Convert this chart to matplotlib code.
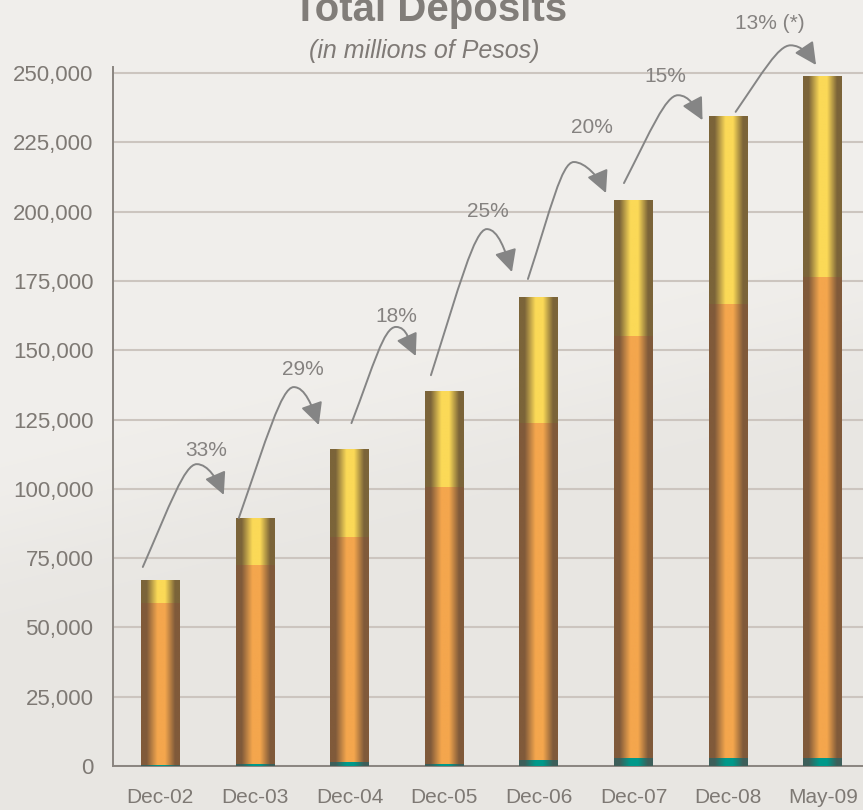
import numpy as np
import matplotlib
matplotlib.use('Agg')
import matplotlib.pyplot as plt
from matplotlib.colors import LinearSegmentedColormap, to_rgb
from matplotlib.patches import FancyArrowPatch
from matplotlib.path import Path
from matplotlib.ticker import FuncFormatter

plt.rcParams['font.family'] = ['Liberation Sans', 'DejaVu Sans']

# data (millions of pesos)
periods = ['Dec-02', 'Dec-03', 'Dec-04', 'Dec-05', 'Dec-06', 'Dec-07', 'Dec-08', 'May-09']
teal_part = [500, 800, 1500, 700, 2200, 3000, 3000, 3000]
orange_part = [58400, 71700, 81100, 99900, 121500, 152000, 163700, 173500]
yellow_part = [8200, 16600, 31400, 34400, 45300, 49000, 67800, 72500]
growth = ['33%', '29%', '18%', '25%', '20%', '15%', '13% (*)']

# curved growth arrows: start, top of the hump, arrow tip, label
arrow_start = [(-0.185, 71800), (0.83, 89500), (2.02, 123700), (2.86, 141000),
               (3.885, 175700), (4.90, 210300), (6.08, 236000)]
arrow_peak = [(0.385, 108900), (1.41, 136700), (2.49, 158400), (3.45, 193700),
              (4.37, 217900), (5.47, 242000), (6.66, 260000)]
arrow_tip = [(0.671, 97800), (1.675, 123000), (2.70, 147900), (3.716, 178200),
             (4.71, 206700), (5.73, 233000), (6.93, 252900)]
label_pos = [(0.48, 114000), (1.51, 142900), (2.49, 162000), (3.46, 199900),
             (4.56, 230500), (5.34, 248600), (6.44, 268000)]

W, H = 863, 810
fig = plt.figure(figsize=(W / 100, H / 100), dpi=100)

# soft two-tone backdrop
bg = fig.add_axes([0, 0, 1, 1], zorder=-10)
yy, xx = np.mgrid[0:H, 0:W]
edge = 540 - 0.25 * xx
t = 1 / (1 + np.exp(-(yy - edge) / 35.0))
light = np.array(to_rgb('#f1efec'))
dark = np.array(to_rgb('#e8e6e2'))
img = light[None, None, :] * (1 - t[..., None]) + dark[None, None, :] * t[..., None]
bg.imshow(img, aspect='auto', extent=(0, 1, 0, 1))
bg.set_axis_off()

ax = fig.add_axes([113 / W, 44 / H, 757 / W, 698.5 / H])
ax.set_facecolor('none')


def grad_cmap(dk, lt):
    return LinearSegmentedColormap.from_list(
        '', [(0, dk), (0.14, dk), (0.42, lt), (0.62, lt), (0.88, dk), (1, dk)])


cm_teal = grad_cmap('#3d5f5a', '#00998a')
cm_orange = grad_cmap('#805a3a', '#f4a64d')
cm_yellow = grad_cmap('#7b6439', '#fbd957')
grad = np.linspace(0, 1, 80).reshape(1, -1)
w = 0.41

x = np.arange(len(periods))
for i in x:
    b = 0
    for val, cm in ((teal_part[i], cm_teal), (orange_part[i], cm_orange), (yellow_part[i], cm_yellow)):
        ax.imshow(grad, extent=(i - w / 2, i + w / 2, b, b + val), aspect='auto',
                  cmap=cm, interpolation='bilinear', zorder=3)
        b += val

for s, p, tp, lp, txt in zip(arrow_start, arrow_peak, arrow_tip, label_pos, growth):
    sx, sy = s
    px, py = p
    tx, ty = tp
    verts = [(sx, sy),
             (sx + 0.5 * (px - sx), sy + 0.6 * (py - sy)), (px - 0.13, py), (px, py),
             (px + 0.12, py), (tx - 0.07, ty + 0.5 * (py - ty)), (tx, ty)]
    codes = [Path.MOVETO] + [Path.CURVE4] * 6
    arr = FancyArrowPatch(path=Path(verts, codes), arrowstyle='-|>,head_length=0.9,head_width=0.45',
                          mutation_scale=15, lw=1.4, color='#858585', zorder=5,
                          transform=ax.transData, clip_on=False)
    ax.add_patch(arr)
    ax.text(lp[0], lp[1], txt, ha='center', va='center', fontsize=15, color='#858280', zorder=6)

ax.set_xlim(-0.5, 7.5)
ax.set_ylim(0, 252000)
ax.set_xticks(x)
ax.set_xticklabels(periods)
ax.set_yticks(range(0, 250001, 25000))
ax.yaxis.set_major_formatter(FuncFormatter(lambda v, pos: '{:,}'.format(int(v))))
ax.tick_params(length=0, labelsize=15, colors='#7e7974')
ax.tick_params(axis='y', pad=14, labelsize=16)
ax.tick_params(axis='x', pad=16)
ax.yaxis.grid(True, color='#ccc5bf', lw=1.5)
ax.set_axisbelow(True)
for side in ('top', 'right'):
    ax.spines[side].set_visible(False)
for side in ('left', 'bottom'):
    ax.spines[side].set_color('#8a8580')
    ax.spines[side].set_linewidth(1.4)

fig.text(430 / W, 1 - 21 / H, 'Total Deposits', ha='center', va='baseline',
         fontsize=29, fontweight='bold', color='#817d79')
fig.text(424 / W, 1 - 51 / H, '(in millions of Pesos)', ha='center', va='center',
         style='italic', fontsize=18, color='#7f7a76')

fig.savefig('out.png', dpi=100)
